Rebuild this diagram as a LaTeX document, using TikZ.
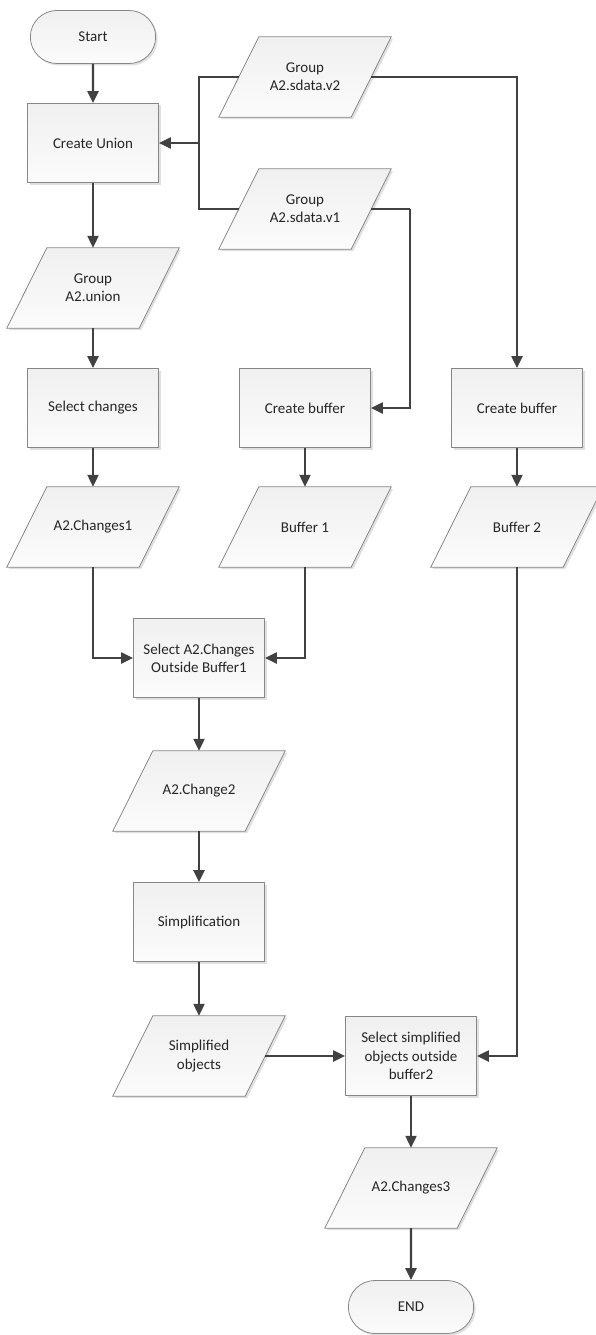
\documentclass[tikz,border=0pt]{standalone}
\usepackage{fontspec}
\setmainfont{Carlito}
\usepackage{tikz}
\usetikzlibrary{shapes.misc}
\usetikzlibrary{shadows}
\usetikzlibrary{backgrounds}
\usetikzlibrary{arrows.meta}
\definecolor{edgegray}{HTML}{414141}
\definecolor{linegray}{HTML}{878787}
\definecolor{textgray}{HTML}{262626}
\tikzset{
    mybox/.style = {rectangle, line width=0.8pt, draw=linegray, top color=gray!12, bottom color=gray!3, align=center, text=textgray, minimum width=131pt, minimum height=79pt, drop shadow={shadow xshift=2pt, shadow yshift=-2pt, fill=gray!40, opacity=0.6}},
    myio/.style = {rectangle, align=center, text=textgray, minimum width=132pt, minimum height=80pt, inner sep=0pt},
    myiob/.style = {line width=0.8pt, draw=linegray, top color=gray!12, bottom color=gray!3, drop shadow={shadow xshift=2pt, shadow yshift=-2pt, fill=gray!40, opacity=0.6}},
    myterm/.style = {rounded rectangle, line width=0.8pt, draw=linegray, top color=gray!12, bottom color=gray!3, align=center, text=textgray, minimum width=132pt, minimum height=53pt, drop shadow={shadow xshift=2pt, shadow yshift=-2pt, fill=gray!40, opacity=0.6}},
    edgea/.style = {-{Triangle[length=12pt,width=11pt]}, line width=2.2pt, edgegray},
    edgen/.style = {-, line width=2.2pt, edgegray}
}

\begin{document}
\begin{tikzpicture}[x=1pt, y=-1pt, font=\fontsize{15}{18.3}\selectfont]
\useasboundingbox (0,0) rectangle (595,1335);
\node[myterm] at (  93,   37) (start) {Start};
\node[mybox]  at (  93,  143) (union) {Create Union};
\node[myio]   at ( 305,   77) (v2) {Group\\A2.sdata.v2};
\node[myio]   at ( 305,  209) (v1) {Group\\A2.sdata.v1};
\node[myio]   at (  93,  288) (grp) {Group\\A2.union};
\node[mybox]  at (  93,  408) (selch) {Select changes};
\node[mybox]  at ( 305,  408) (buf1) {Create buffer};
\node[mybox]  at ( 517,  408) (buf2) {Create buffer};
\node[myio]   at (  93,  527) (chg1) {A2.Changes1};
\node[myio]   at ( 305,  527) (bf1) {Buffer 1};
\node[myio]   at ( 517,  527) (bf2) {Buffer 2};
\node[mybox]  at ( 199,  658) (selA) {Select A2.Changes\\Outside Buffer1};
\node[myio]   at ( 199,  791) (chg2) {A2.Change2};
\node[mybox]  at ( 199,  922) (simpl) {Simplification};
\node[myio]   at ( 199, 1056) (simpo) {Simplified\\objects};
\node[mybox]  at ( 411, 1056) (selB) {Select simplified\\objects outside\\buffer2};
\node[myio]   at ( 411, 1188) (chg3) {A2.Changes3};
\node[myterm] at ( 411, 1307) (fin) {END};
\coordinate (jn) at (199, 143);
\coordinate (k1) at (410, 209);
% data shapes
\begin{scope}[on background layer]
\foreach \n in {v2,v1,grp,chg1,bf1,bf2,chg2,simpo,chg3}
  \draw[myiob] ([xshift=-20pt]\n.south west) -- ([xshift=-20pt]\n.south east)
    -- ([xshift=20pt]\n.north east) -- ([xshift=20pt]\n.north west) -- cycle;
\end{scope}
% inputs
\draw[edgen] (v2) -| (jn);
\draw[edgen] (v1) -| (jn);
\draw[edgea] (jn) -- (union);
\draw[edgea] (v2) -| (buf2);
\draw[edgen] (v1) -- (k1);
\draw[edgea] (k1) |- (buf1);
% main flow
\draw[edgea] (start) -- (union);
\draw[edgea] (union) -- (grp);
\draw[edgea] (grp) -- (selch);
\draw[edgea] (selch) -- (chg1);
\draw[edgea] (buf1) -- (bf1);
\draw[edgea] (buf2) -- (bf2);
\draw[edgea] (chg1) |- (selA);
\draw[edgea] (bf1) |- (selA);
\draw[edgea] (selA) -- (chg2);
\draw[edgea] (chg2) -- (simpl);
\draw[edgea] (simpl) -- (simpo);
\draw[edgea] (simpo) -- (selB);
\draw[edgea] (bf2) |- (selB);
\draw[edgea] (selB) -- (chg3);
\draw[edgea] (chg3) -- (fin);
\end{tikzpicture}
\end{document}
